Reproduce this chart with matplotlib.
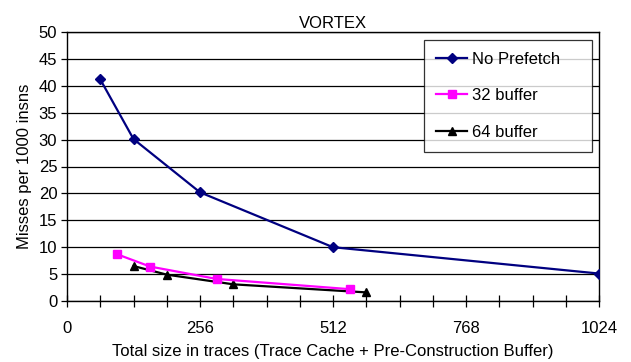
import matplotlib
matplotlib.use("Agg")
import matplotlib.pyplot as plt
from matplotlib.ticker import MultipleLocator

plt.rcParams['font.family'] = ['Liberation Sans', 'DejaVu Sans']

# Tamano total (entradas) y fallos por 1000 instrucciones
x_no_prefetch = [64, 128, 256, 512, 1024]
y_no_prefetch = [41.2, 30.1, 20.2, 10.0, 5.1]

x_buf32 = [96, 160, 288, 544]
y_buf32 = [8.7, 6.4, 4.1, 2.2]

x_buf64 = [128, 192, 320, 576]
y_buf64 = [6.5, 4.9, 3.1, 1.6]

fs = 12

fig = plt.figure(figsize=(6.31, 3.62), dpi=100)
ax = fig.add_axes([67 / 631, 1 - 301 / 362, 532 / 631, 269 / 362])

ax.plot(x_no_prefetch, y_no_prefetch, color="#000080", marker="D", markersize=5,
        linewidth=1.6, label="No Prefetch", zorder=4)
ax.plot(x_buf32, y_buf32, color="#ff00ff", marker="s", markersize=6,
        linewidth=1.6, label="32 buffer", zorder=4)
ax.plot(x_buf64, y_buf64, color="black", marker="^", markersize=6,
        linewidth=1.6, label="64 buffer", zorder=3)

ax.set_xlim(0, 1024)
ax.set_ylim(0, 50)
ax.xaxis.set_major_locator(MultipleLocator(256))
ax.xaxis.set_minor_locator(MultipleLocator(64))
ax.yaxis.set_major_locator(MultipleLocator(5))

ax.yaxis.grid(True, color="black", linewidth=0.9)
ax.set_axisbelow(True)
for s in ax.spines.values():
    s.set_color("black")
    s.set_linewidth(1.0)

ax.tick_params(axis="x", which="both", direction="inout", length=8, width=0.9,
               labelsize=fs, pad=10.5)
ax.tick_params(axis="y", direction="out", length=4, width=0.9, labelsize=fs, pad=3)

ax.set_xlabel("Total size in traces (Trace Cache + Pre-Construction Buffer)",
              fontsize=fs, labelpad=6)
ax.set_ylabel("Misses per 1000 insns", fontsize=fs, labelpad=5)
ax.set_title("VORTEX", fontsize=fs, pad=3)

# Leyenda con ancho fijo dentro del area de trazado
x0 = (424 - 67) / 532
y1 = (301 - 40) / 269
leg = ax.legend(loc="upper left", bbox_to_anchor=(x0, y1 - 111 / 269, 168 / 532, 111 / 269),
                mode="expand", fontsize=fs, frameon=True, fancybox=False,
                labelspacing=1.3, handlelength=1.9, handletextpad=0.3,
                borderpad=0.7, borderaxespad=0)
leg.get_frame().set_edgecolor("black")
leg.get_frame().set_linewidth(0.9)

fig.savefig("out.png", dpi=100)
